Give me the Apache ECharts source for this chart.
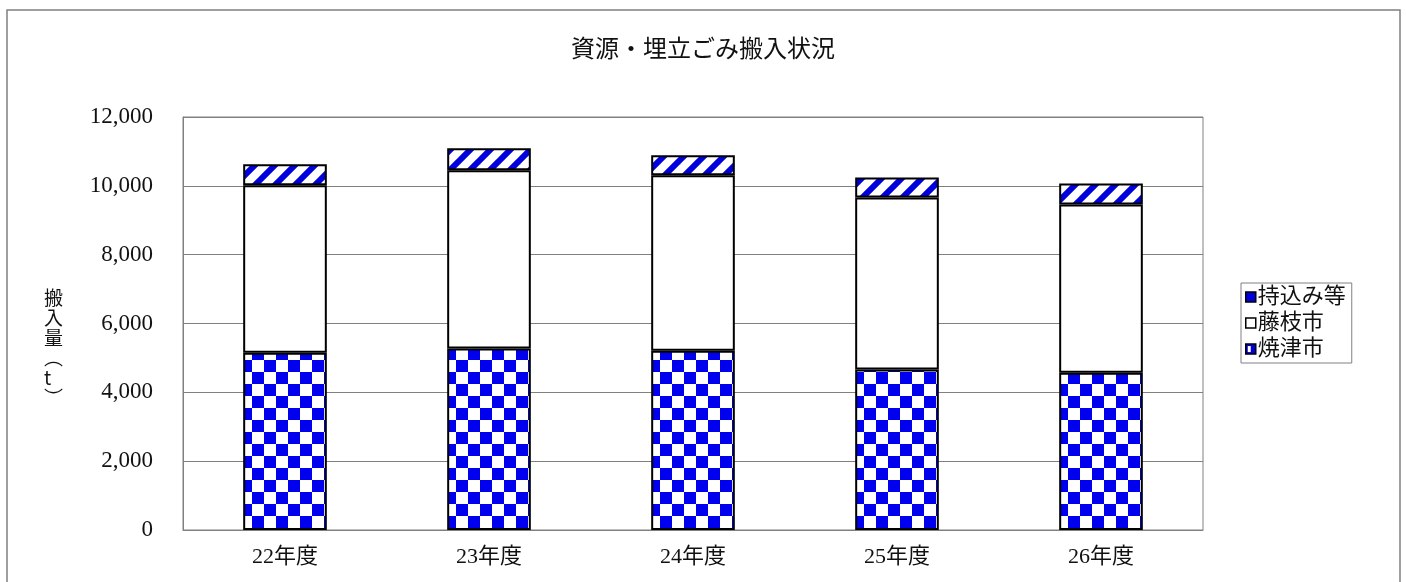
<!DOCTYPE html>
<html>
<head>
<meta charset="utf-8">
<script src="https://cdn.jsdelivr.net/npm/echarts@6/dist/echarts.min.js"></script>
<style>
  html, body { margin: 0; padding: 0; background: #fff; }
  #chart { width: 1406px; height: 582px; }
</style>
</head>
<body>
<div id="chart"></div>
<script>
// Fiscal years on the x axis
const categories = ['22年度', '23年度', '24年度', '25年度', '26年度'];
// Tonnage brought in, stacked per year
const yaizuValues = [5150, 5270, 5210, 4660, 4570];
const fujiedaValues = [4870, 5180, 5100, 5000, 4890];
const broughtInValues = [610, 640, 580, 580, 610];
const seriesNames = ['焼津市', '藤枝市', '持込み等'];
const yTicks = [0, 2000, 4000, 6000, 8000, 10000, 12000];

const FONT = '"Liberation Serif", "Noto Sans CJK JP", serif';
const CJK = '"Noto Sans CJK JP", sans-serif';

// Checkerboard fill
function checkerPattern(size) {
  const c = document.createElement('canvas');
  c.width = size * 2; c.height = size * 2;
  const g = c.getContext('2d');
  g.fillStyle = '#ffffff'; g.fillRect(0, 0, c.width, c.height);
  g.fillStyle = '#0000ee';
  g.fillRect(0, 0, size, size);
  g.fillRect(size, size, size, size);
  return c;
}

// Diagonal stripe fill ("/" direction)
function stripePattern(period, lineW) {
  const c = document.createElement('canvas');
  c.width = period; c.height = period;
  const g = c.getContext('2d');
  g.fillStyle = '#ffffff'; g.fillRect(0, 0, period, period);
  g.strokeStyle = '#0000dd';
  g.lineWidth = lineW;
  g.lineCap = 'square';
  for (let k = -1; k <= 1; k++) {
    g.beginPath();
    g.moveTo(k * period, period);
    g.lineTo(k * period + period, 0);
    g.stroke();
  }
  return c;
}

// Small swatch for the legend: blue square with a white corner
function swatchPattern() {
  const c = document.createElement('canvas');
  c.width = 10; c.height = 10;
  const g = c.getContext('2d');
  g.fillStyle = '#0000dd'; g.fillRect(0, 0, 10, 10);
  g.fillStyle = '#ffffff'; g.fillRect(2, 2, 3, 6);
  return c;
}

const checker = { image: checkerPattern(12), repeat: 'repeat' };
const stripes = { image: stripePattern(20, 6), repeat: 'repeat' };
const swatch = { image: swatchPattern(), repeat: 'repeat' };

const chart = echarts.init(document.getElementById('chart'), null, { renderer: 'canvas' });

const barBase = {
  type: 'bar',
  stack: 'total',
  barWidth: '41%',
  emphasis: { disabled: true }
};

chart.setOption({
  animation: false,
  backgroundColor: '#ffffff',
  title: {
    text: '資源・埋立ごみ搬入状況',
    left: 'center',
    top: 34,
    textStyle: { fontFamily: FONT, fontSize: 24, fontWeight: 'normal', color: '#111' }
  },
  grid: { left: 183, right: 203, top: 117, bottom: 52, show: true, borderColor: '#808080', borderWidth: 1 },
  legend: {
    orient: 'vertical',
    left: 1241,
    top: 283,
    icon: 'rect',
    itemWidth: 10,
    itemHeight: 10,
    itemGap: 4,
    padding: [3, 6, 3, 4],
    borderColor: '#808080',
    borderWidth: 1,
    data: [
      { name: '持込み等', itemStyle: { color: '#0000dd', borderColor: '#000', borderWidth: 1.5 } },
      { name: '藤枝市', itemStyle: { color: '#ffffff', borderColor: '#000', borderWidth: 1.5 } },
      { name: '焼津市', itemStyle: { color: swatch, borderColor: '#000', borderWidth: 1.5 } }
    ],
    textStyle: { fontFamily: FONT, fontSize: 22, color: '#111', padding: [0, 0, 0, -3] }
  },
  xAxis: {
    type: 'category',
    data: categories,
    axisLine: { lineStyle: { color: '#808080' } },
    axisTick: { show: false },
    axisLabel: { fontFamily: FONT, fontSize: 22, color: '#111', margin: 16 }
  },
  yAxis: {
    type: 'value',
    min: yTicks[0],
    max: yTicks[yTicks.length - 1],
    interval: 2000,
    axisLine: { show: true, lineStyle: { color: '#808080' } },
    axisTick: { show: false },
    splitLine: { lineStyle: { color: '#808080', width: 1 } },
    axisLabel: {
      fontFamily: FONT, fontSize: 23, color: '#111', margin: 30,
      formatter: v => v.toLocaleString('en-US')
    }
  },
  graphic: [
    {
      type: 'rect',
      shape: { x: 7, y: 10, width: 1393, height: 600 },
      style: { fill: 'none', stroke: '#808080', lineWidth: 1.5 },
      silent: true
    },
    {
      type: 'text',
      left: 44,
      top: 288,
      style: {
        text: '搬\n入\n量\n︵\nt\n︶',
        fontFamily: CJK,
        fontSize: 19,
        lineHeight: 20,
        fill: '#111',
        align: 'center'
      }
    }
  ],
  series: [
    Object.assign({}, barBase, {
      name: seriesNames[0],
      data: yaizuValues,
      itemStyle: { color: checker, borderColor: '#000', borderWidth: 2 }
    }),
    Object.assign({}, barBase, {
      name: seriesNames[1],
      data: fujiedaValues,
      itemStyle: { color: '#ffffff', borderColor: '#000', borderWidth: 2 }
    }),
    Object.assign({}, barBase, {
      name: seriesNames[2],
      data: broughtInValues,
      itemStyle: { color: stripes, borderColor: '#000', borderWidth: 2 }
    })
  ]
});
</script>
</body>
</html>
